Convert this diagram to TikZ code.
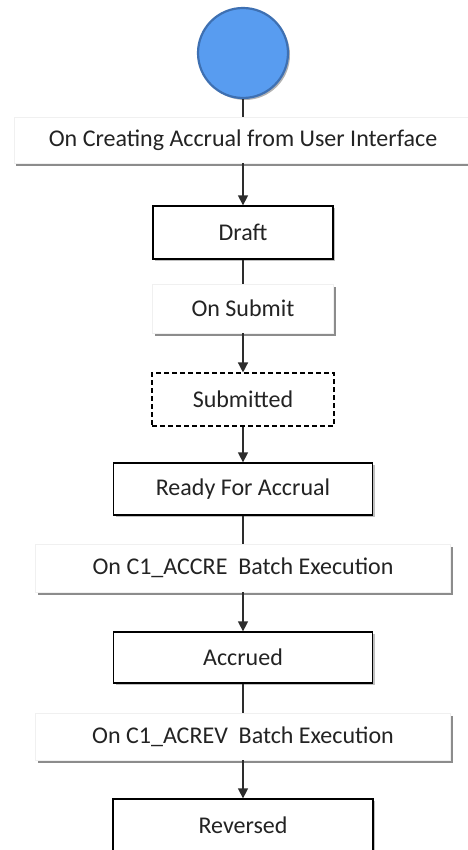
\documentclass[tikz,border=0pt]{standalone}
\usepackage{fontspec}
\setmainfont{Carlito}
\usetikzlibrary{shadows,arrows.meta}
\definecolor{circfill}{RGB}{88,156,240}
\definecolor{circdraw}{RGB}{62,112,178}
\definecolor{linec}{RGB}{45,45,45}
\definecolor{txt}{RGB}{35,35,35}
\tikzset{
  base/.style={rectangle, inner sep=0pt, align=center, text=txt,
    font=\fontsize{24}{28}\selectfont},
  statebox/.style={base, draw=black, line width=1.3pt, fill=white,
    drop shadow={shadow xshift=2pt, shadow yshift=-2pt, opacity=0.25, fill=black}},
  dashbox/.style={base, draw=black, line width=1.1pt, dashed, dash pattern=on 5pt off 3pt, fill=white},
  eventbox/.style={base, draw=gray!12, line width=0.6pt, fill=white,
    drop shadow={shadow xshift=2pt, shadow yshift=-3pt, opacity=0.45, fill=black}},
  startnode/.style={circle, minimum size=90pt, inner sep=0pt, fill=circfill, draw=circdraw, line width=2.2pt,
    drop shadow={shadow xshift=2pt, shadow yshift=-2pt, opacity=0.3, fill=black}},
  conn/.style={draw=linec, line width=1.4pt},
  arr/.style={conn, -{Triangle[length=10pt, width=10pt]}}
}
\begin{document}
\begin{tikzpicture}[x=1pt, y=-1pt]
\useasboundingbox (0,0) rectangle (467,850);
\fill[white] (0,0) rectangle (467,850);
\node[startnode] (start) at (243,53) {};
\node[eventbox, minimum width=458pt, minimum height=46pt] (ev1) at (243,140) {On Creating Accrual from User Interface};
\node[statebox, minimum width=180pt, minimum height=53pt] (draft) at (243,232.5) {Draft};
\node[eventbox, minimum width=181pt, minimum height=49pt] (ev2) at (243,308.5) {On Submit};
\node[dashbox, minimum width=182pt, minimum height=53pt] (sub) at (243,399.5) {Submitted};
\node[statebox, minimum width=259pt, minimum height=52pt] (ready) at (243,489) {Ready For Accrual};
\node[eventbox, minimum width=415pt, minimum height=48pt] (ev3) at (243,568) {On C1\_ACCRE\ \ Batch Execution};
\node[statebox, minimum width=259pt, minimum height=51pt] (accrued) at (243,657.5) {Accrued};
\node[eventbox, minimum width=415pt, minimum height=47pt] (ev4) at (243,736.5) {On C1\_ACREV\ \ Batch Execution};
\node[statebox, minimum width=260pt, minimum height=52pt] (rev) at (243,825) {Reversed};
\draw[conn] (start) -- (ev1);
\draw[arr] (ev1) -- (draft);
\draw[conn] (draft) -- (ev2);
\draw[arr] (ev2) -- (sub);
\draw[arr] (sub) -- (ready);
\draw[conn] (ready) -- (ev3);
\draw[arr] (ev3) -- (accrued);
\draw[conn] (accrued) -- (ev4);
\draw[arr] (ev4) -- (rev);
\end{tikzpicture}
\end{document}
